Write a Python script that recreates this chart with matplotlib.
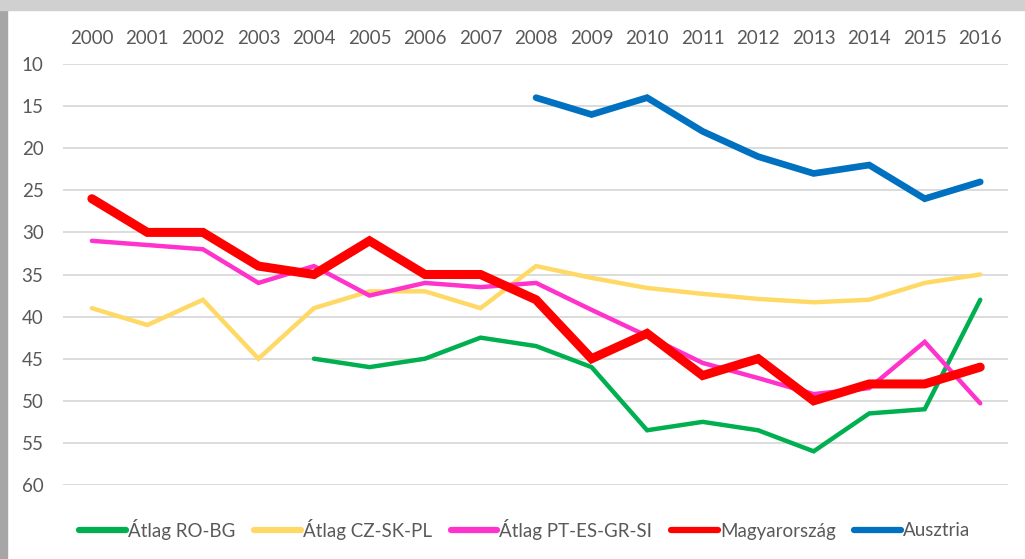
import numpy as np
import matplotlib.pyplot as plt
from matplotlib.patches import Rectangle

# Data (rank, lower is better -> inverted axis)
years = [str(y) for y in range(2000, 2017)]

atlag_ro_bg = [np.nan, np.nan, np.nan, np.nan, 45, 46, 45, 42.5, 43.5,
               46, 53.5, 52.5, 53.5, 56, 51.5, 51, 38]
atlag_cz_sk_pl = [39, 41, 38, 45, 39, 37, 37, 39, 34,
                  35.4, 36.6, 37.3, 37.9, 38.3, 38, 36, 35]
atlag_pt_es_gr_si = [31, 31.5, 32, 36, 34, 37.5, 36, 36.5, 36,
                     39.2, 42.3, 45.5, 47.3, 49.2, 48.5, 43, 50.3]
magyarorszag = [26, 30, 30, 34, 35, 31, 35, 35, 38,
                45, 42, 47, 45, 50, 48, 48, 46]
ausztria = [np.nan] * 8 + [14, 16, 14, 18, 21, 23, 22, 26, 24]

series_names = ["Átlag RO-BG", "Átlag CZ-SK-PL", "Átlag PT-ES-GR-SI",
                "Magyarország", "Ausztria"]
series_values = [atlag_ro_bg, atlag_cz_sk_pl, atlag_pt_es_gr_si,
                 magyarorszag, ausztria]
colors = ["#00b050", "#ffd966", "#ff33cc", "#ff0000", "#0070c0"]
widths = [3.2, 3.2, 3.2, 6.5, 4.8]

plt.rcParams["font.family"] = ["Lato", "DejaVu Sans"]

fig = plt.figure(figsize=(10.25, 5.59), dpi=100)

# grey frame remnants (left strip and top band)
fig.patches.append(Rectangle((0, 0), 7 / 1025, 1, transform=fig.transFigure,
                             color="#a6a6a6", zorder=0))
fig.patches.append(Rectangle((0, 1 - 10 / 559), 1, 10 / 559,
                             transform=fig.transFigure, color="#d0d0d0", zorder=0))

ax = fig.add_axes([63 / 1025, 1 - 485 / 559, 945 / 1025, 421 / 559])
x = np.arange(len(years))
for name, vals, c, lw in zip(series_names, series_values, colors, widths):
    ax.plot(x, vals, color=c, lw=lw, label=name, solid_capstyle="round",
            solid_joinstyle="miter")

ax.set_xlim(-0.52, 16.5)
ax.set_ylim(60, 10)
ax.set_yticks(range(10, 61, 5))
ax.set_xticks(x)
ax.set_xticklabels(years)
ax.xaxis.tick_top()
ax.tick_params(axis="both", length=0, labelsize=13.5, colors="#595959")
ax.tick_params(axis="x", pad=12)
ax.tick_params(axis="y", pad=14)
ax.grid(axis="y", color="#d9d9d9", lw=1.3)
ax.set_axisbelow(True)
for s in ax.spines.values():
    s.set_visible(False)

leg = fig.legend(loc="center", bbox_to_anchor=(0.512, 1 - 529 / 559), ncol=5,
                 frameon=False, fontsize=13.5, handlelength=2.5,
                 handletextpad=0.1, columnspacing=1.0)
for h in leg.get_lines():
    h.set_linewidth(4.5)
for t in leg.get_texts():
    t.set_color("#595959")

fig.savefig("out.png", dpi=100)
